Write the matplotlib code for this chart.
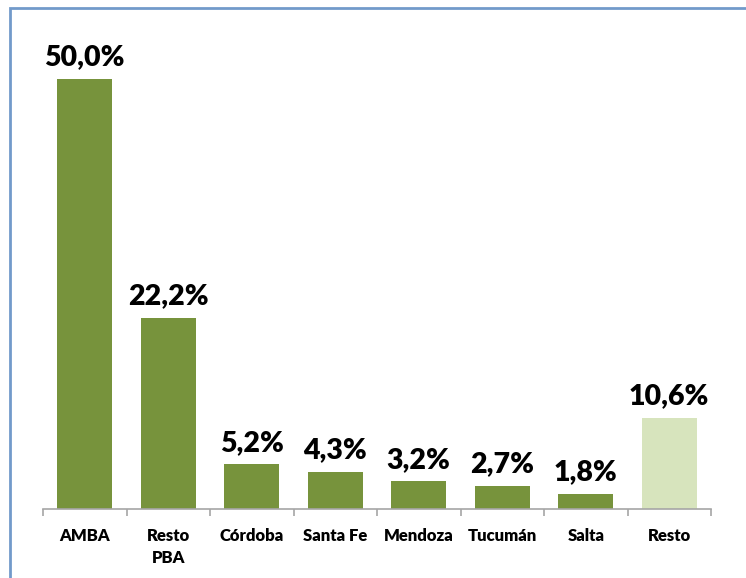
import matplotlib.pyplot as plt
from matplotlib.patches import Rectangle

regiones = ["AMBA", "Resto\nPBA", "Córdoba", "Santa Fe", "Mendoza", "Tucumán", "Salta", "Resto"]
valores = [50.0, 22.2, 5.2, 4.3, 3.2, 2.7, 1.8, 10.6]
etiquetas = ["50,0%", "22,2%", "5,2%", "4,3%", "3,2%", "2,7%", "1,8%", "10,6%"]

colores = ["#77933C"] * 7 + ["#D7E4BD"]

plt.rcParams['font.family'] = ['Lato', 'DejaVu Sans']

W, H = 746, 578
fig = plt.figure(figsize=(W / 100, H / 100), dpi=100)

# marco azul alrededor del grafico
fig.patches.append(Rectangle((10 / W, -0.05), 1.1, (H - 8) / H + 0.05,
                             transform=fig.transFigure, fill=False,
                             edgecolor="#4F81BD", linewidth=2, alpha=0.8))

ax = fig.add_axes([43 / W, (H - 509) / H, 668 / W, 473 / H])
x = range(len(valores))
ax.bar(x, valores, width=0.66, color=colores)
for i, (v, t) in enumerate(zip(valores, etiquetas)):
    ax.text(i, v + 1.0, t, ha="center", va="bottom", fontsize=20.5, fontweight=800)

ax.set_xlim(-0.5, len(valores) - 0.5)
ax.set_ylim(0, 55)
ax.set_yticks([])
for s in ["top", "right", "left"]:
    ax.spines[s].set_visible(False)
ax.spines["bottom"].set_color("#A6A6A6")
ax.spines["bottom"].set_linewidth(1.2)

ax.set_xticks([i - 0.5 for i in range(len(valores) + 1)], minor=False)
ax.set_xticklabels([])
ax.tick_params(axis="x", which="major", length=5, color="#A6A6A6", width=1.2)
ax.set_xticks(list(x), minor=True)
ax.set_xticklabels(regiones, minor=True, fontsize=12, fontweight=800, linespacing=1.45)
ax.tick_params(axis="x", which="minor", length=0, pad=14)
for lab in ax.get_xticklabels(minor=True):
    lab.set_verticalalignment("top")

fig.savefig("out.png", dpi=100)
